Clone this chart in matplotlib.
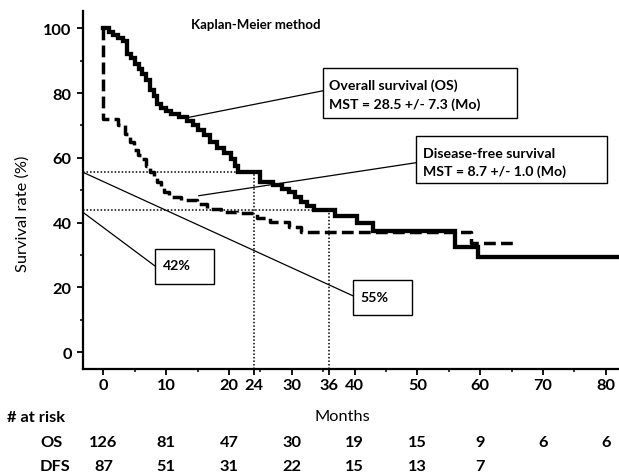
import matplotlib
matplotlib.use('Agg')
import matplotlib.pyplot as plt
from matplotlib.patches import Rectangle
from matplotlib.transforms import blended_transform_factory

plt.rcParams['font.family'] = ['Lato', 'DejaVu Sans']
plt.rcParams['font.weight'] = 'bold'

# overall survival (months, %)
os_t = [0, 0.9, 1.6, 2.4, 3.2, 3.8, 4.4, 5.1, 5.7, 6.2, 6.8, 7.5, 8.0, 8.6, 9.2,
        10.0, 10.7, 12.0, 13.3, 14.2, 15.0, 16.0, 17.0, 18.1, 19.2, 20.3, 21.0,
        21.5, 25.0, 27.0, 28.5, 29.5, 30.5, 31.5, 32.5, 33.5, 36.9, 40.4, 43.0,
        56.0, 59.6, 82.5]
os_s = [100, 99, 98, 97, 96, 92, 91, 89, 87.5, 86, 84, 81, 79, 76.5, 75.5,
        74.5, 73.5, 72.5, 71.5, 70, 68.5, 67, 65, 63, 61.5, 59.6, 57.5,
        55.5, 52.5, 51.5, 50.5, 49.5, 48, 46.5, 45, 44, 42, 40, 37.5,
        32.4, 29.3, 29.3]

# disease-free survival
dfs_t = [0, 0, 2.3, 3.5, 4.3, 4.8, 5.5, 6.2, 6.8, 7.5, 8.0, 8.6, 9.1, 9.6, 10.5,
         12.3, 14.9, 16.5, 18.7, 21.3, 24.5, 26.5, 29.5, 31.5, 58.5, 65.7]
dfs_s = [100, 72, 70, 67.5, 65, 62.5, 61, 59.5, 57.5, 55.5, 54, 52.4, 50.8, 49.3, 48,
         47, 45.6, 44.2, 43.2, 42.8, 41.5, 40.3, 38.5, 37, 33.8, 33.8]

xticks = [0, 10, 20, 24, 30, 36, 40, 50, 60, 70, 80]
yticks = [0, 20, 40, 60, 80, 100]

risk_t = [0, 10, 20, 30, 40, 50, 60, 70, 80]
risk_os = [126, 81, 47, 30, 19, 15, 9, 6, 6]
risk_dfs = [87, 51, 31, 22, 15, 13, 7]

fig = plt.figure(figsize=(6.19, 4.77), dpi=100)
ax = fig.add_axes([0.134, 0.224, 0.866, 0.751])

ax.step(os_t, os_s, where='post', color='black', lw=3.1, solid_joinstyle='miter')
ax.step(dfs_t, dfs_s, where='post', color='black', lw=2.5, linestyle=(0, (3.4, 1.5)))

# median guides
dot = (0, (1, 1.3))
ax.plot([-3.3, 24], [55.5, 55.5], color='black', lw=1.1, linestyle=dot)
ax.plot([24, 24], [-5.3, 55.5], color='black', lw=1.1, linestyle=dot)
ax.plot([-3.3, 36], [43.9, 43.9], color='black', lw=1.1, linestyle=dot)
ax.plot([36, 36], [-5.3, 43.9], color='black', lw=1.1, linestyle=dot)

# callouts
ax.plot([34.9, 13.3], [80.7, 72.4], color='black', lw=0.9)
ax.plot([49.8, 15.2], [58.5, 48.3], color='black', lw=0.9)
ax.plot([-3.2, 39.7], [55.5, 17.4], color='black', lw=0.9)
ax.plot([-3.2, 8.2], [43.1, 26.6], color='black', lw=0.9)

boxes = [
    (34.9, 72.4, 31.0, 15.5, 36.0, [(82.6, 'Overall survival (OS)'), (76.8, 'MST = 28.5 +/- 7.3 (Mo)')]),
    (49.8, 52.2, 30.4, 14.4, 50.9, [(61.5, 'Disease-free survival'), (55.9, 'MST = 8.7 +/- 1.0 (Mo)')]),
    (8.2, 21.0, 9.4, 10.8, 9.5, [(26.8, '42%')]),
    (39.7, 11.4, 9.5, 10.8, 40.9, [(17.0, '55%')]),
]
for x0, y0, w, h, tx, lines in boxes:
    ax.add_patch(Rectangle((x0, y0), w, h, fill=True, facecolor='white',
                           edgecolor='black', lw=1.0, zorder=3))
    for ty, s in lines:
        ax.text(tx, ty, s, fontsize=10.2, fontweight='bold', va='center', ha='left', zorder=4)

ax.text(14.0, 101.5, 'Kaplan-Meier method', fontsize=9.5, fontweight='bold', va='center')

ax.set_xlim(-3.25, 82.1)
ax.set_ylim(-5.3, 105.4)
ax.set_xticks(xticks)
ax.set_yticks(yticks)
ax.set_xticks(range(5, 85, 10), minor=True)
ax.set_yticks(range(10, 110, 20), minor=True)
ax.tick_params(axis='both', which='major', labelsize=11.8, width=1.3, length=4.5, direction='out')
ax.tick_params(axis='x', which='major', pad=2.0)
ax.tick_params(axis='y', which='major', pad=3.5)
ax.tick_params(axis='both', which='minor', width=1.1, length=2.5, direction='out')
for lab in ax.get_xticklabels() + ax.get_yticklabels():
    lab.set_fontweight('bold')

for side in ['top', 'right']:
    ax.spines[side].set_visible(False)
for side in ['left', 'bottom']:
    ax.spines[side].set_linewidth(1.6)

fig.text(23 / 619, 1 - 214 / 477, 'Survival rate (%)', rotation=90, fontsize=11.8,
         fontweight='normal', ha='center', va='center')

# numbers at risk
tr = blended_transform_factory(ax.transData, fig.transFigure)
fig.text(7 / 619, 1 - 418 / 477, '# at risk', fontsize=11.8, fontweight='bold', ha='left', va='center')
ax.text(38.0, 1 - 417 / 477, 'Months', transform=tr, fontsize=11.8, fontweight='normal',
        ha='center', va='center')
fig.text(40 / 619, 1 - 443 / 477, 'OS', fontsize=11.8, fontweight='bold', ha='left', va='center')
fig.text(40 / 619, 1 - 467 / 477, 'DFS', fontsize=11.8, fontweight='bold', ha='left', va='center')
for t, n in zip(risk_t, risk_os):
    ax.text(t, 1 - 443 / 477, str(n), transform=tr, fontsize=11.8, fontweight='bold',
            ha='center', va='center', clip_on=False)
for t, n in zip(risk_t, risk_dfs):
    ax.text(t, 1 - 467 / 477, str(n), transform=tr, fontsize=11.8, fontweight='bold',
            ha='center', va='center', clip_on=False)

fig.savefig('out.png', dpi=100)
